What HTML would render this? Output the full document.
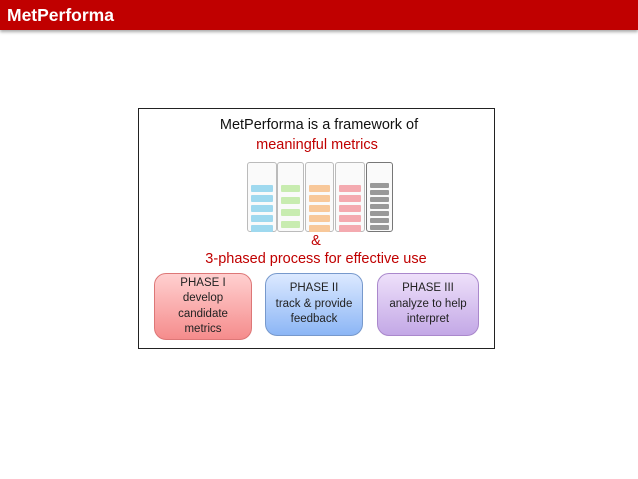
<!DOCTYPE html><html><head><style>
body{margin:0;width:638px;height:479px;background:#fff;position:relative;font-family:"Liberation Sans",sans-serif;overflow:hidden}
.a{position:absolute}
.hd{left:0;top:0;width:638px;height:30px;background:#c00000;box-shadow:0 2px 3px #aaa}
.hd span{position:absolute;left:7px;top:5px;color:#fff;font-weight:bold;font-size:17.5px}
.box{left:138px;top:108px;width:355px;height:239px;border:1px solid #222}
.t{width:638px;text-align:center;font-size:14.5px}
.p{border-radius:12px;text-align:center;font-size:11.5px;line-height:15.5px;color:#222;display:flex;align-items:center;justify-content:center;box-sizing:border-box}
.c{border:1px solid #bbb;border-radius:3px;box-sizing:border-box;background:#fafafa}
.s{position:absolute;left:3px;right:3px;height:7px;border-radius:1px}
</style></head><body>
<div class="a hd"><span>MetPerforma</span></div>
<div class="a box"></div>
<div class="a t" style="left:0px;top:117px;color:#111">MetPerforma is a framework of</div>
<div class="a t" style="left:-2px;top:137px;color:#c00000">meaningful metrics</div>
<div class="a c" style="left:247px;top:162px;width:30px;height:70px"><div class="s" style="top:22px;background:#9fd9ef"></div><div class="s" style="top:32px;background:#9fd9ef"></div><div class="s" style="top:42px;background:#9fd9ef"></div><div class="s" style="top:52px;background:#9fd9ef"></div><div class="s" style="top:62px;background:#9fd9ef"></div></div>
<div class="a c" style="left:277px;top:162px;width:27px;height:70px"><div class="s" style="top:22px;background:#c8ecb0"></div><div class="s" style="top:34px;background:#c8ecb0"></div><div class="s" style="top:46px;background:#c8ecb0"></div><div class="s" style="top:58px;background:#c8ecb0"></div></div>
<div class="a c" style="left:305px;top:162px;width:29px;height:70px"><div class="s" style="top:22px;background:#f8c89a"></div><div class="s" style="top:32px;background:#f8c89a"></div><div class="s" style="top:42px;background:#f8c89a"></div><div class="s" style="top:52px;background:#f8c89a"></div><div class="s" style="top:62px;background:#f8c89a"></div></div>
<div class="a c" style="left:335px;top:162px;width:30px;height:70px"><div class="s" style="top:22px;background:#f4aab0"></div><div class="s" style="top:32px;background:#f4aab0"></div><div class="s" style="top:42px;background:#f4aab0"></div><div class="s" style="top:52px;background:#f4aab0"></div><div class="s" style="top:62px;background:#f4aab0"></div></div>
<div class="a c" style="left:366px;top:162px;width:27px;height:70px;border-color:#777"><div class="s" style="top:20px;height:5px;background:#999"></div><div class="s" style="top:27px;height:5px;background:#999"></div><div class="s" style="top:34px;height:5px;background:#999"></div><div class="s" style="top:41px;height:5px;background:#999"></div><div class="s" style="top:48px;height:5px;background:#999"></div><div class="s" style="top:55px;height:5px;background:#999"></div><div class="s" style="top:62px;height:5px;background:#999"></div></div>
<div class="a t" style="left:-3px;top:233px;color:#c00000">&amp;</div>
<div class="a t" style="left:-3px;top:251px;color:#c00000">3-phased process for effective use</div>
<div class="a p" style="left:154px;top:273px;width:98px;height:67px;border:1px solid #d77;background:linear-gradient(#ffd0d0,#f58c8c)">PHASE I<br>develop<br>candidate<br>metrics</div>
<div class="a p" style="left:265px;top:273px;width:98px;height:63px;border:1px solid #79c;background:linear-gradient(#dce9ff,#8cb6f5)">PHASE II<br>track &amp; provide<br>feedback</div>
<div class="a p" style="left:377px;top:273px;width:102px;height:63px;border:1px solid #a8c;background:linear-gradient(#eee0fa,#c3a8e6)">PHASE III<br>analyze to help<br>interpret</div>
</body></html>
